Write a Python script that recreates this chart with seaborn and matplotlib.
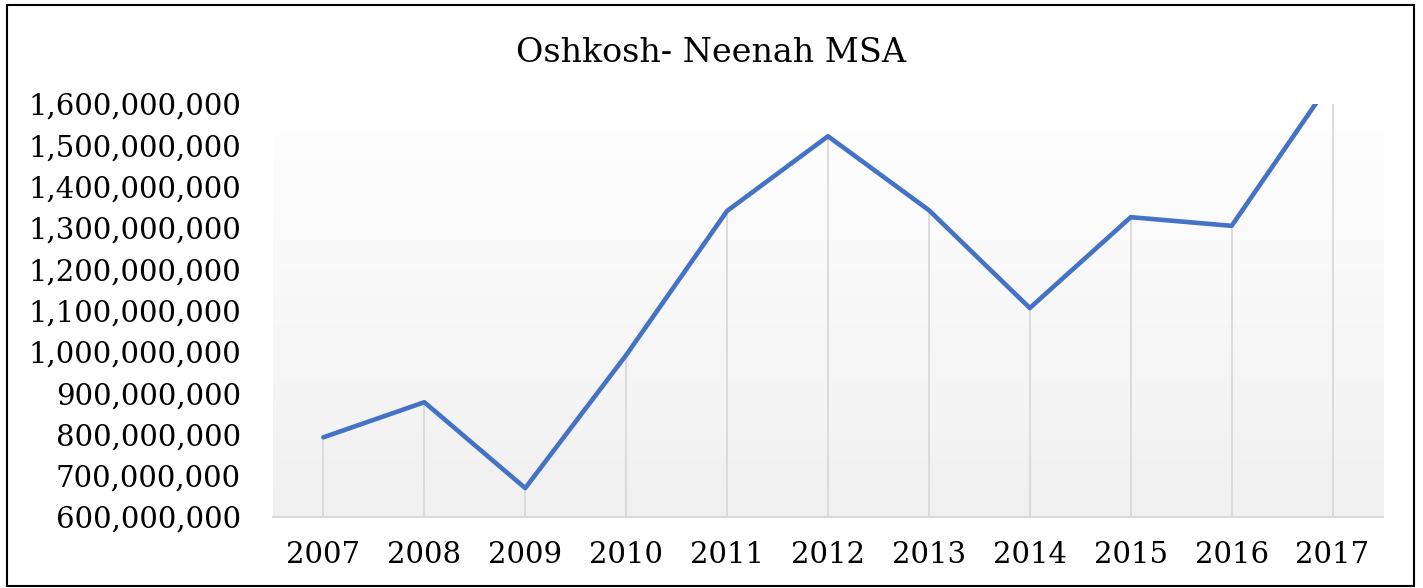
import numpy as np
import matplotlib
matplotlib.use("Agg")
import matplotlib.pyplot as plt
from matplotlib.colors import LinearSegmentedColormap
from matplotlib.patches import Rectangle
from matplotlib.ticker import FuncFormatter
import seaborn as sns

# data
years = [2007, 2008, 2009, 2010, 2011, 2012, 2013, 2014, 2015, 2016, 2017]
values = [793e6, 878e6, 670e6, 992e6, 1341e6, 1522e6, 1343e6, 1106e6, 1326e6, 1305e6, 1660e6]
y_ticks = [600e6, 700e6, 800e6, 900e6, 1000e6, 1100e6, 1200e6, 1300e6, 1400e6, 1500e6, 1600e6]
title = "Oshkosh- Neenah MSA"

sns.set_theme(style="white")
plt.rcParams['font.family'] = ['DejaVu Serif']
plt.rcParams['text.color'] = 'black'
plt.rcParams['xtick.color'] = 'black'
plt.rcParams['ytick.color'] = 'black'

fig = plt.figure(figsize=(14.23, 5.88), dpi=100)
ax = fig.add_axes([0.1918, 0.1207, 0.7801, 0.7024])

# background gradient (white at top, light gray at bottom)
cmap = LinearSegmentedColormap.from_list("bg", ["#f0f0f0", "#ffffff"])
grad = np.linspace(0, 1, 256).reshape(-1, 1)
ax.imshow(grad, cmap=cmap, aspect='auto', origin='lower',
          extent=(2006.5, 2017.5, 600e6, 1600e6), zorder=0)

# drop lines from each point to the axis
ax.vlines(years, 600e6, values, color='#d9d9d9', lw=1.3, zorder=1)

sns.lineplot(x=years, y=values, ax=ax, color='#4472C4', lw=3.3, zorder=3)

ax.set_xlim(2006.5, 2017.5)
ax.set_ylim(600e6, 1600e6)
ax.set_xticks(years)
ax.set_xticklabels([str(y) for y in years])
ax.set_yticks(y_ticks)
ax.yaxis.set_major_formatter(FuncFormatter(lambda v, p: f"{v:,.0f}"))
ax.tick_params(axis='x', length=0, pad=17, labelsize=21)
ax.tick_params(axis='y', length=0, pad=23, labelsize=21)

for s in ['top', 'right', 'left']:
    ax.spines[s].set_visible(False)
ax.spines['bottom'].set_color('#d9d9d9')
ax.spines['bottom'].set_linewidth(1.5)
ax.grid(False)

fig.text(0.5, 0.91, title, ha='center', va='center', fontsize=24)

fig.patches.append(Rectangle((0.0049, 0.0034), 0.9888, 0.9881, transform=fig.transFigure,
                             fill=False, edgecolor='black', lw=1.5))

fig.savefig("out.png", dpi=100)
